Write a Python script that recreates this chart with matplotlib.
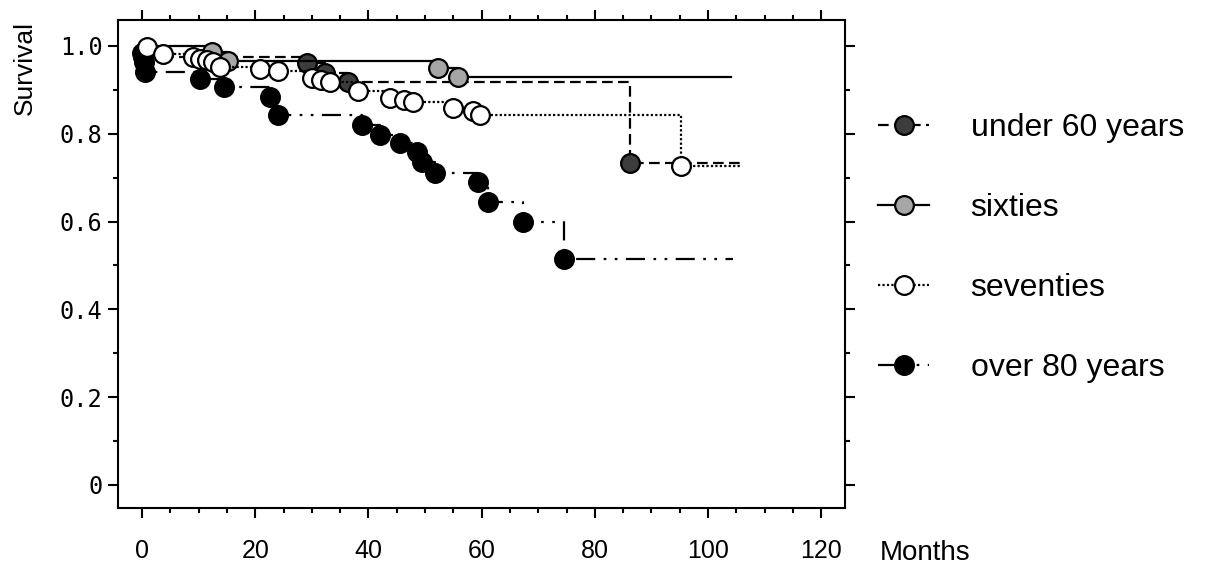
import numpy as np
import matplotlib
matplotlib.use("Agg")
import matplotlib.pyplot as plt
from matplotlib.ticker import MultipleLocator, FixedLocator

# -------------------------------------------------
# Data
# -------------------------------------------------
groups = ["under 60 years", "sixties", "seventies", "over 80 years"]

under60_t = [0.2, 29.1, 32.3, 36.4, 86.3]
under60_s = [0.975, 0.962, 0.939, 0.919, 0.733]
under60_end = 106

sixties_t = [12.3, 15.2, 52.3, 55.8]
sixties_s = [0.986, 0.966, 0.950, 0.929]
sixties_end = 104

seventies_t = [0.8, 3.7, 9.0, 10.2, 11.4, 12.6, 13.8, 20.8, 24.1, 30.0,
               31.7, 33.2, 38.2, 43.8, 46.2, 47.9, 54.9, 58.5, 59.7, 95.2]
seventies_s = [0.997, 0.982, 0.975, 0.971, 0.967, 0.963, 0.953, 0.947, 0.944, 0.928,
               0.923, 0.918, 0.897, 0.881, 0.876, 0.872, 0.858, 0.853, 0.843, 0.727]
seventies_end = 106

over80_t = [0.0, 0.3, 0.5, 10.2, 14.4, 22.6, 24.1, 38.8, 42.0, 45.6,
            48.5, 49.4, 51.8, 59.4, 61.2, 67.4, 74.6]
over80_s = [0.985, 0.963, 0.940, 0.924, 0.906, 0.883, 0.843, 0.820, 0.797, 0.779,
            0.758, 0.735, 0.711, 0.691, 0.645, 0.600, 0.514]
over80_end = 104.5

x_ticks = [0, 20, 40, 60, 80, 100, 120]
y_ticks = [0, 0.2, 0.4, 0.6, 0.8, 1.0]
y_tick_labels = ["0", "0.2", "0.4", "0.6", "0.8", "1.0"]

plt.rcParams["font.family"] = ["Liberation Sans", "DejaVu Sans"]

# -------------------------------------------------
# Plot
# -------------------------------------------------
fig = plt.figure(figsize=(12.05, 5.75), dpi=100)
ax = fig.add_axes([118 / 1205, 1 - 508 / 575, (845 - 118) / 1205, (508 - 20) / 575])

styles = [
    (under60_t, under60_s, under60_end, "#3c3c3c", (0, (4.8, 2.4)), 1),
    (sixties_t, sixties_s, sixties_end, "#a6a6a6", "-", 2),
    (seventies_t, seventies_s, seventies_end, "white", (0, (1, 1)), 4),
    (over80_t, over80_s, over80_end, "black", (0, (8.6, 3.8, 1.2, 3.8, 1.2, 3.8)), 3),
]

handles = []
for (t, s, end, color, ls, z), name in zip(styles, groups):
    xs = [0] + t + [end]
    ys = [1.0] + s + [s[-1]]
    ax.step(xs, ys, where="post", color="black", lw=1.6, ls=ls, zorder=z)
    ax.plot(t, s, "o", ms=13.5, mfc=color, mec="black", mew=1.6, zorder=z + 0.5)
    h, = ax.plot([], [], color="black", lw=1.6, ls=ls, marker="o", ms=13.5,
                 mfc=color, mec="black", mew=1.6)
    handles.append(h)

ax.set_xlim(-4.24, 124.2)
ax.set_ylim(-0.0524, 1.0592)

ax.xaxis.set_major_locator(FixedLocator(x_ticks))
ax.xaxis.set_minor_locator(MultipleLocator(5))
ax.yaxis.set_major_locator(FixedLocator(y_ticks))
ax.yaxis.set_minor_locator(MultipleLocator(0.1))
ax.set_yticklabels(y_tick_labels, family="DejaVu Sans Mono", fontsize=17)
ax.set_xticklabels([str(v) for v in x_ticks], fontsize=18)

ax.tick_params(which="both", direction="out", top=True, right=True, width=1.5)
ax.tick_params(which="major", length=7)
ax.tick_params(which="minor", length=3.5)
ax.tick_params(axis="x", which="major", pad=15)
ax.tick_params(axis="y", which="major", pad=4)
for sp in ax.spines.values():
    sp.set_linewidth(1.5)

fig.text(25 / 1205, 1 - 68 / 575, "Survival", rotation=90, fontsize=19,
         ha="center", va="center")
fig.text(880 / 1205, 1 - 553 / 575, "Months", fontsize=20, ha="left", va="center")

fig.legend(handles, groups, loc="upper left", bbox_to_anchor=(878 / 1205, 1 - 113 / 575),
           frameon=False, fontsize=23, handlelength=1.6, handletextpad=1.3,
           labelspacing=1.57, borderpad=0, borderaxespad=0)

fig.savefig("out.png", dpi=100)
